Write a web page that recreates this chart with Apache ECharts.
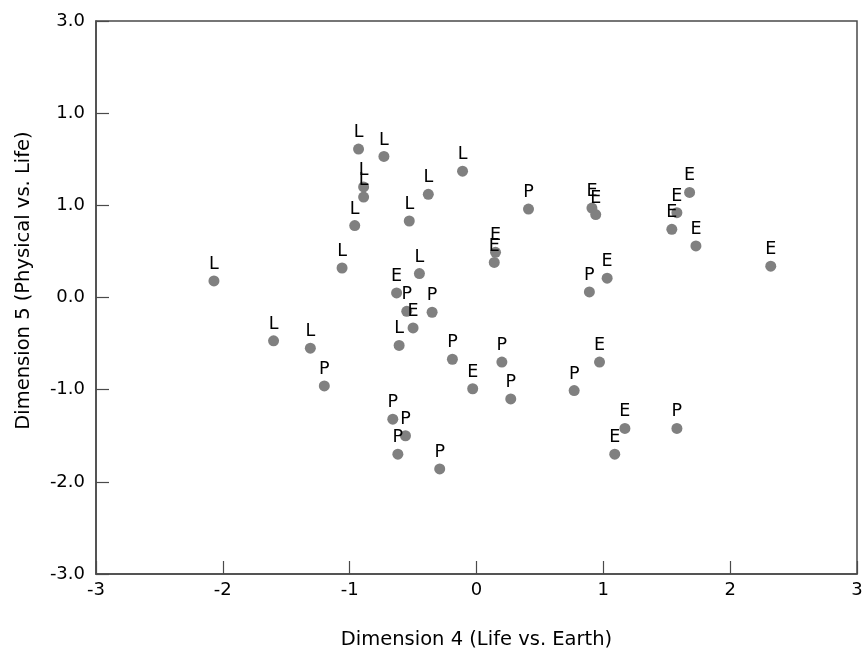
<!DOCTYPE html>
<html>
<head>
<meta charset="utf-8">
<script src="https://cdn.jsdelivr.net/npm/echarts@6/dist/echarts.min.js"></script>
<style>
html,body{margin:0;padding:0;background:#fff;}
#chart{width:862px;height:651px;}
</style>
</head>
<body>
<div id="chart"></div>
<script>
// Category labels of the points
const groupNames = ['L', 'E', 'P'];

// Dimension 4 (x) / Dimension 5 (y) coordinates for each group
const lifePoints = [
  [-2.07, 0.18], [-1.60, -0.47], [-1.31, -0.55], [-1.06, 0.32], [-0.96, 0.78],
  [-0.93, 1.61], [-0.89, 1.20], [-0.89, 1.09], [-0.73, 1.53], [-0.61, -0.52],
  [-0.53, 0.83], [-0.45, 0.26], [-0.38, 1.12], [-0.11, 1.37]
];
const earthPoints = [
  [-0.63, 0.05], [-0.50, -0.33], [-0.03, -0.99], [0.15, 0.49], [0.14, 0.38],
  [0.91, 0.97], [0.94, 0.90], [0.97, -0.70], [1.03, 0.21], [1.09, -1.70],
  [1.17, -1.42], [1.54, 0.74], [1.58, 0.92], [1.68, 1.14], [1.73, 0.56],
  [2.32, 0.34]
];
const physicalPoints = [
  [-1.20, -0.96], [-0.66, -1.32], [-0.62, -1.70], [-0.56, -1.50], [-0.55, -0.15],
  [-0.35, -0.16], [-0.29, -1.86], [-0.19, -0.67], [0.20, -0.70], [0.27, -1.10],
  [0.41, 0.96], [0.77, -1.01], [0.89, 0.06], [1.58, -1.42]
];

// Tick labels (as printed in the original figure)
const xTickLabels = ['-3', '-2', '-1', '0', '1', '2', '3'];
const yTickLabels = ['-3.0', '-2.0', '-1.0', '0.0', '1.0', '1.0', '3.0'];

const FONT = 'DejaVu Sans';
const AXIS_COLOR = '#4a4a4a';

const chart = echarts.init(document.getElementById('chart'), null, { renderer: 'canvas' });

function mkSeries(name, data) {
  return {
    name: name,
    type: 'scatter',
    data: data,
    symbol: 'circle',
    symbolSize: 11,
    itemStyle: { color: '#808080', opacity: 1 },
    label: {
      show: true,
      position: 'top',
      distance: 2,
      formatter: '{a}',
      color: '#000',
      fontFamily: FONT,
      fontSize: 17.5
    },
    emphasis: { disabled: true },
    silent: true,
    z: 2
  };
}

const option = {
  backgroundColor: '#fff',
  animation: false,
  grid: {
    left: 96, right: 5, top: 21, bottom: 77,
    show: true, borderColor: AXIS_COLOR, borderWidth: 1.5,
    containLabel: false, outerBoundsMode: 'none'
  },
  xAxis: {
    type: 'value', min: -3, max: 3, interval: 1,
    name: 'Dimension 4 (Life vs. Earth)',
    nameLocation: 'middle', nameGap: 56,
    nameTextStyle: { fontFamily: FONT, fontSize: 19.5, color: '#000' },
    axisLine: { show: true, onZero: false, lineStyle: { color: AXIS_COLOR, width: 1.5 } },
    axisTick: { show: true, inside: true, length: 13, lineStyle: { color: AXIS_COLOR, width: 1.2 } },
    axisLabel: {
      margin: 7, fontFamily: FONT, fontSize: 18, color: '#000',
      formatter: function (v) { return xTickLabels[Math.round(v) + 3]; }
    },
    splitLine: { show: false }
  },
  yAxis: {
    type: 'value', min: -3, max: 3, interval: 1,
    name: 'Dimension 5 (Physical vs. Life)',
    nameLocation: 'middle', nameGap: 62, nameRotate: 90,
    nameTextStyle: { fontFamily: FONT, fontSize: 19.5, color: '#000', padding: [0, 0, 0, 34] },
    axisLine: { show: true, onZero: false, lineStyle: { color: AXIS_COLOR, width: 1.5 } },
    axisTick: { show: true, inside: true, length: 13, lineStyle: { color: AXIS_COLOR, width: 1.2 } },
    axisLabel: {
      margin: 11, fontFamily: FONT, fontSize: 18, color: '#000',
      formatter: function (v) { return yTickLabels[Math.round(v) + 3]; }
    },
    splitLine: { show: false }
  },
  series: [
    mkSeries(groupNames[0], lifePoints),
    mkSeries(groupNames[1], earthPoints),
    mkSeries(groupNames[2], physicalPoints)
  ]
};

chart.setOption(option);
</script>
</body>
</html>
